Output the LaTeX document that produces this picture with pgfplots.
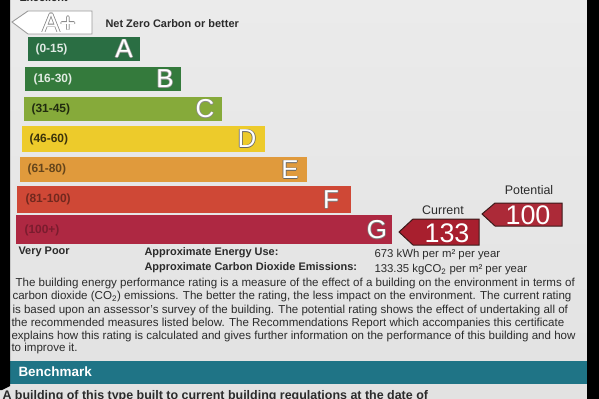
\documentclass[border=0pt]{standalone}
\usepackage{pgfplots}
\pgfplotsset{compat=1.18}
\usepackage{fontspec}
\setmainfont{Liberation Sans}
\definecolor{paper}{HTML}{EBEBEB}
\definecolor{paperb}{HTML}{E2E2E2}
\definecolor{ink}{HTML}{2B2B2B}
\definecolor{cA}{HTML}{2A6E43}
\definecolor{cB}{HTML}{347A3C}
\definecolor{cC}{HTML}{86AA3A}
\definecolor{cD}{HTML}{EDCB2B}
\definecolor{cE}{HTML}{E09A3C}
\definecolor{cF}{HTML}{CF4836}
\definecolor{cG}{HTML}{AE2842}
\definecolor{arr}{HTML}{A81F2E}
\definecolor{arrline}{HTML}{3A1A1A}
\definecolor{teal}{HTML}{1F7486}
\newcommand\olt[3]{%
  \makebox[0pt][l]{\kern-0.7pt\textcolor{#1}{#3}}%
  \makebox[0pt][l]{\kern0.7pt\textcolor{#1}{#3}}%
  \makebox[0pt][l]{\raisebox{0.7pt}{\textcolor{#1}{#3}}}%
  \makebox[0pt][l]{\raisebox{-0.7pt}{\textcolor{#1}{#3}}}%
  \textcolor{#2}{#3}}
\newcommand\fs[1]{\fontsize{#1}{#1}\selectfont}
\begin{document}
\begin{tikzpicture}
\path[use as bounding box, clip] (0,0) rectangle (599bp,399bp);
\begin{axis}[at={(0,0)}, anchor=south west, scale only axis,
  width=599bp, height=399bp, xmin=0, xmax=599, ymin=0, ymax=399,
  y dir=reverse, hide axis, clip=false]
% paper background
\shade[top color=paper, bottom color=paperb] (axis cs:0,0) rectangle (axis cs:599,399);
% cropped heading
\node[anchor=west, text=ink, font=\fs{11}\bfseries] at (axis cs:16,-2) {Excellent};
% A+ arrow
\addplot[fill=white, draw=gray!80, line width=0.9pt] coordinates {(12,22) (28,11) (92,11) (92,34) (28,34)} -- cycle;
\node[font=\fs{27}] at (axis cs:59,23) {\olt{gray}{white}{A+}};
\node[anchor=west, text=ink, font=\fs{11}\bfseries] at (axis cs:102,24) {Net Zero Carbon or better};
% rating bands (left edge, right edge, top, bottom)
\addplot[fill=cA, draw=none] coordinates {(28,37) (140,37) (140,61) (28,61)} -- cycle;
\addplot[fill=cB, draw=none] coordinates {(25,67) (181,67) (181,91) (25,91)} -- cycle;
\addplot[fill=cC, draw=none] coordinates {(24,97) (222,97) (222,121) (24,121)} -- cycle;
\addplot[fill=cD, draw=none] coordinates {(22,126) (265,126) (265,152) (22,152)} -- cycle;
\addplot[fill=cE, draw=none] coordinates {(20,157) (307,157) (307,182) (20,182)} -- cycle;
\addplot[fill=cF, draw=none] coordinates {(17,186) (351,186) (351,213) (17,213)} -- cycle;
\addplot[fill=cG, draw=none] coordinates {(16,215) (392,215) (392,244) (16,244)} -- cycle;
% band ranges
\node[anchor=west, text=white!85!cA, font=\fs{12}\bfseries] at (axis cs:32,49) {(0-15)};
\node[anchor=west, text=white!85!cB, font=\fs{12}\bfseries] at (axis cs:30,79) {(16-30)};
\node[anchor=west, text=black!75!cC, font=\fs{12}\bfseries] at (axis cs:28,109) {(31-45)};
\node[anchor=west, text=black!75!cD, font=\fs{12}\bfseries] at (axis cs:26,139) {(46-60)};
\node[anchor=west, text=black!55!cE, font=\fs{12}\bfseries] at (axis cs:24,169) {(61-80)};
\node[anchor=west, text=black!45!cF, font=\fs{12}\bfseries] at (axis cs:22,199) {(81-100)};
\node[anchor=west, text=black!30!cG, font=\fs{12}\bfseries] at (axis cs:21,230) {(100+)};
% band letters
\node[font=\fs{26}] at (axis cs:124,49) {\olt{black!40}{white}{A}};
\node[font=\fs{26}] at (axis cs:165,79) {\olt{black!40}{white}{B}};
\node[font=\fs{26}] at (axis cs:205,109) {\olt{black!45}{white}{C}};
\node[font=\fs{26}] at (axis cs:247,139) {\olt{black!60}{white}{D}};
\node[font=\fs{26}] at (axis cs:290,170) {\olt{black!60}{white}{E}};
\node[font=\fs{26}] at (axis cs:331,200) {\olt{black!50}{white}{F}};
\node[font=\fs{26}] at (axis cs:377,230) {\olt{black!50}{white}{G}};
% current and potential ratings
\addplot[fill=arr, draw=arrline, line width=1pt] coordinates {(399,232) (413,219) (479,219) (479,245) (413,245)} -- cycle;
\addplot[fill=arr!95!white, draw=arrline, line width=1pt] coordinates {(482,214) (495,203) (562,203) (562,226) (495,226)} -- cycle;
\node[text=white, font=\fs{27}] at (axis cs:447,233) {133};
\node[text=white, font=\fs{27}] at (axis cs:528,215) {100};
\node[text=ink, font=\fs{12.5}] at (axis cs:443,210) {Current};
\node[text=ink, font=\fs{12.5}] at (axis cs:529,190) {Potential};
% summary
\node[anchor=west, text=ink, font=\fs{11}\bfseries] at (axis cs:15,252) {Very Poor};
\node[anchor=west, text=ink, font=\fs{11}\bfseries] at (axis cs:141,253) {Approximate Energy Use:};
\node[anchor=west, text=ink, font=\fs{11}\bfseries] at (axis cs:141,268) {Approximate Carbon Dioxide Emissions:};
\node[anchor=west, text=ink, font=\fs{11.4}] at (axis cs:371,255) {673 kWh per m² per year};
\node[anchor=west, text=ink, font=\fs{11.4}] at (axis cs:371,270) {133.35 kgCO\textsubscript{2} per m² per year};
% paragraph
\node[anchor=west, text=ink, font=\fs{11.6}] at (axis cs:12,284) {The building energy performance rating is a measure of the effect of a building on the environment in terms of};
\node[anchor=west, text=ink, font=\fs{11.6}] at (axis cs:9,297) {carbon dioxide (CO\textsubscript{2}) emissions. The better the rating, the less impact on the environment. The current rating};
\node[anchor=west, text=ink, font=\fs{11.6}] at (axis cs:9,311) {is based upon an assessor's survey of the building. The potential rating shows the effect of undertaking all of};
\node[anchor=west, text=ink, font=\fs{11.6}] at (axis cs:8,324) {the recommended measures listed below. The Recommendations Report which accompanies this certificate};
\node[anchor=west, text=ink, font=\fs{11.6}] at (axis cs:8,337) {explains how this rating is calculated and gives further information on the performance of this building and how};
\node[anchor=west, text=ink, font=\fs{11.6}] at (axis cs:8,349) {to improve it.};
% benchmark header
\fill[teal] (axis cs:7,361) rectangle (axis cs:587,384);
\node[anchor=west, text=white, font=\fs{13.5}\bfseries] at (axis cs:15,372) {Benchmark};
\node[anchor=west, text=ink, font=\fs{12.5}\bfseries] at (axis cs:-1,396) {A building of this type built to current building regulations at the date of};
% dark edges of the photograph
\fill[black] (axis cs:587,0) rectangle (axis cs:599,399);
\fill[black] (axis cs:0,0) -- (axis cs:10,0) -- (axis cs:10,386) -- (axis cs:2,390) -- (axis cs:0,390) -- cycle;
\end{axis}
\end{tikzpicture}
\end{document}
